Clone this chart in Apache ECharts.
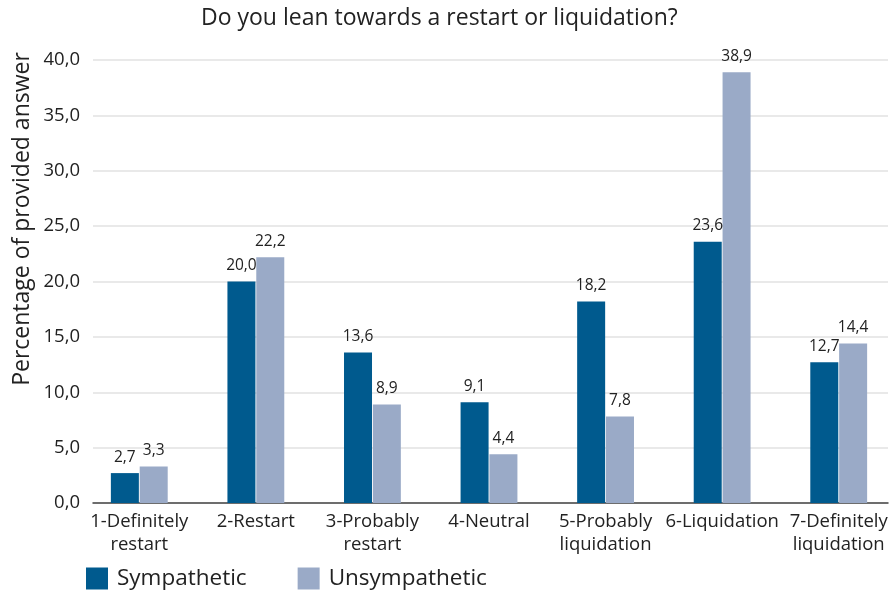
<!DOCTYPE html>
<html><head><meta charset="utf-8">
<script src="https://cdn.jsdelivr.net/npm/echarts@6/dist/echarts.min.js"></script>
<style>html,body{margin:0;padding:0;background:#fff;overflow:hidden}#c{width:897px;height:594px}</style>
</head><body><div id="c"></div>
<script>
var categories = ['1-Definitely\nrestart','2-Restart','3-Probably\nrestart','4-Neutral','5-Probably\nliquidation','6-Liquidation','7-Definitely\nliquidation'];
var sympathetic = [2.7, 20.0, 13.6, 9.1, 18.2, 23.6, 12.7];
var unsympathetic = [3.3, 22.2, 8.9, 4.4, 7.8, 38.9, 14.4];
var seriesNames = ['Sympathetic','Unsympathetic'];
var titleText = 'Do you lean towards a restart or liquidation?';
var yName = 'Percentage of provided answer';

function fmt(v){ return Number(v).toFixed(1).replace('.', ','); }
var font = '"Open Sans", "Noto Sans", sans-serif';
var chart = echarts.init(document.getElementById('c'), null, {renderer:'canvas'});
var lbl = {show:true, position:'top', distance:8, fontSize:15.5, color:'#222', fontFamily:font,
  formatter:function(p){return fmt(p.value);}};
chart.setOption({
  animation:false,
  textStyle:{fontFamily:font},
  title:{text:titleText, left:196, top:2,
    textStyle:{fontSize:23, fontWeight:'normal', color:'#222', fontFamily:font}},
  graphic:[{type:'text', x:22, y:219, rotation:Math.PI/2,
    style:{text:yName, fontSize:23, fill:'#222', fontFamily:font, align:'center', verticalAlign:'middle'}}],
  legend:{left:81, top:562, itemWidth:22, itemHeight:22, itemGap:51, icon:'rect',
    textStyle:{fontSize:22.5, color:'#222', fontFamily:font, padding:[0,0,0,4]},
    data:seriesNames},
  grid:[
    {left:93, right:9, top:60, bottom:91, containLabel:false},
    {left:81, right:0, top:60, bottom:91, containLabel:false}
  ],
  xAxis:[
    {type:'category', gridIndex:0, data:categories,
      axisLine:{lineStyle:{color:'#444', width:1.5}}, axisTick:{show:false}, axisLabel:{show:false}},
    {type:'category', gridIndex:1, data:categories,
      axisLine:{show:false}, axisTick:{show:false},
      axisLabel:{fontSize:18.5, color:'#222', margin:7, lineHeight:23, interval:0, fontFamily:font}}
  ],
  yAxis:[
    {type:'value', gridIndex:0, min:0, max:40, interval:5,
      axisLine:{show:false}, axisTick:{show:false},
      splitLine:{lineStyle:{color:'#e2e2e2', width:1.5}},
      axisLabel:{fontSize:18.5, color:'#222', margin:13, fontFamily:font, formatter:fmt}},
    {type:'value', gridIndex:1, min:0, max:40, interval:5, show:false,
      splitLine:{show:false}}
  ],
  series:[
    {name:seriesNames[0], type:'bar', xAxisIndex:1, yAxisIndex:1, data:sympathetic, barWidth:28, barGap:'3%',
      itemStyle:{color:'#005a8e'}, label:lbl},
    {name:seriesNames[1], type:'bar', xAxisIndex:1, yAxisIndex:1, data:unsympathetic, barWidth:28,
      itemStyle:{color:'#9aaac7'}, label:lbl}
  ]
});
</script></body></html>
